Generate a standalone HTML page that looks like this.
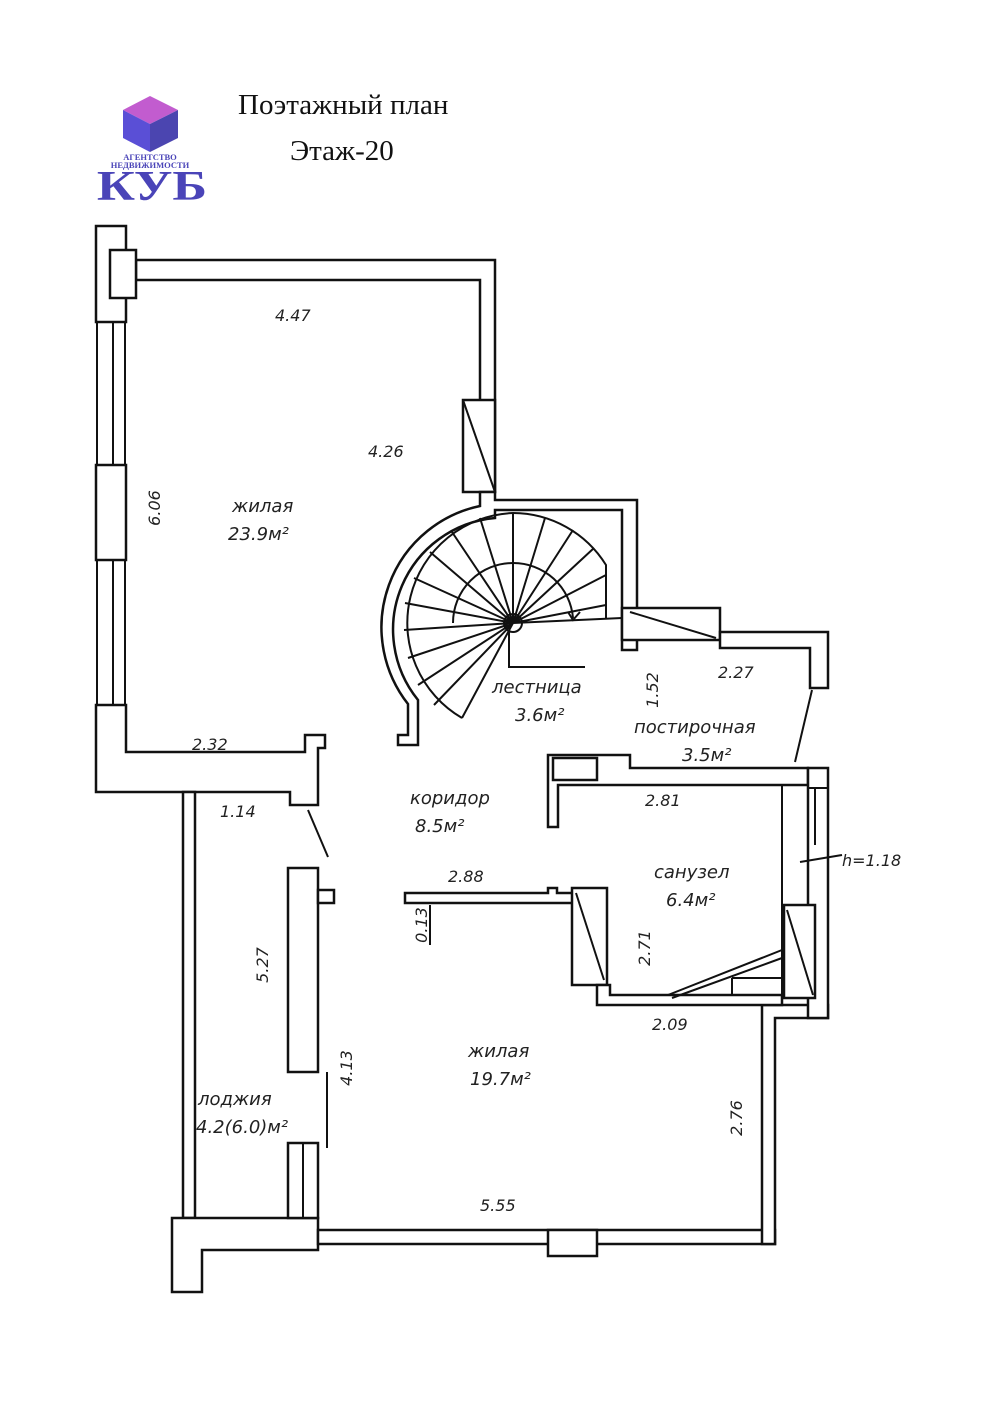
<!DOCTYPE html>
<html><head><meta charset="utf-8"><style>
html,body{margin:0;padding:0;background:#fff}
svg{display:block}
.w{fill:#fff;stroke:#111;stroke-width:2.5}
.l{fill:none;stroke:#111;stroke-width:2}
.t{font-family:"DejaVu Sans","Liberation Sans",sans-serif;font-style:italic;fill:#222;font-size:18px}
.d{font-family:"DejaVu Sans","Liberation Sans",sans-serif;font-style:italic;fill:#222;font-size:16px}
</style></head><body>
<svg width="988" height="1409" viewBox="0 0 988 1409" xmlns="http://www.w3.org/2000/svg">
<!-- logo -->
<polygon points="150,96 178,110 150,124 123,110" fill="#c25ccf"/>
<polygon points="123,110 150,124 150,152 123,138" fill="#5a4fd6"/>
<polygon points="150,124 178,110 178,138 150,152" fill="#4b45b0"/>
<text x="150" y="160" font-family="Liberation Serif,serif" font-weight="bold" font-size="8.5" fill="#4a44b8" text-anchor="middle">АГЕНТСТВО</text>
<text x="150" y="168" font-family="Liberation Serif,serif" font-weight="bold" font-size="8.5" fill="#4a44b8" text-anchor="middle">НЕДВИЖИМОСТИ</text>
<text transform="translate(152,200) scale(1.25,1)" font-family="Liberation Serif,serif" font-weight="bold" font-size="42" fill="#4a44b8" text-anchor="middle">КУБ</text>
<text x="238" y="114" font-family="Liberation Serif,serif" font-size="29" fill="#111">Поэтажный план</text>
<text x="290" y="160" font-family="Liberation Serif,serif" font-size="29" fill="#111">Этаж-20</text>

<!-- top room walls -->
<path class="w" d="M136,260 H495 V492 H480 V280 H136 Z"/>
<rect class="w" x="96" y="226" width="30" height="96"/>
<rect class="w" x="110" y="250" width="26" height="48"/>
<rect class="w" x="463" y="400" width="32" height="92"/>
<line class="l" x1="463" y1="400" x2="495" y2="492"/>
<!-- left wall windows -->
<line class="l" x1="97" y1="322" x2="97" y2="705"/><line class="l" x1="125" y1="322" x2="125" y2="705"/>
<line class="l" x1="113" y1="322" x2="113" y2="465"/><line class="l" x1="113" y1="560" x2="113" y2="705"/>
<rect class="w" x="96" y="465" width="30" height="95"/>
<path class="w" d="M96,705 H126 V752 H305 V735 H325 V748 H318 V805 H290 V792 H96 Z"/>
<!-- loggia -->
<rect class="w" x="183" y="792" width="12" height="426"/>
<path class="w" d="M172,1218 H318 V1250 H202 V1292 H172 Z"/>
<rect class="w" x="288" y="868" width="30" height="204"/>
<rect class="w" x="318" y="890" width="16" height="13"/>
<rect class="w" x="288" y="1143" width="30" height="75"/>
<line class="l" x1="303" y1="1143" x2="303" y2="1218"/>
<line class="l" x1="327" y1="1072" x2="327" y2="1148"/>
<line class="l" x1="308" y1="810" x2="328" y2="857"/>
<!-- bottom wall -->
<rect class="w" x="318" y="1230" width="457" height="14"/>
<rect class="w" x="548" y="1230" width="49" height="26"/>
<path class="w" d="M762,1005 H828 V1018 H775 V1244 H762 Z"/>
<!-- stairs -->
<path class="w" d="M480,492 H495 V500 H637 V650 H622 V510 H495 V518 A112,112 0 0 0 418,700 V745 H398 V735 H408 V704 A124,124 0 0 1 480,506 Z"/>
<g class="l" stroke-width="1.6">
<path d="M513,513 A110,110 0 0 0 462,718"/>
<path d="M513,563 A60,60 0 0 0 453,623"/>
<path d="M513,513 A110,110 0 0 1 606,565 V618"/>
<path d="M513,563 A60,60 0 0 1 573,618"/>
<circle cx="513" cy="623" r="9"/>
<path d="M513,623 L513,513 M513,623 L480,518 M513,623 L452,532 M513,623 L430,552 M513,623 L414,578 M513,623 L405,603 M513,623 L404,630 M513,623 L408,658 M513,623 L418,685 M513,623 L434,705 M513,623 L462,718 M513,623 L545,518 M513,623 L573,530 M513,623 L594,548 M513,623 L606,575 M513,623 L606,605 M513,623 L622,618"/>
<path d="M509,630 V667 H585"/>
<path d="M568,612 L573,620 L580,612"/>
</g>
<rect class="w" x="622" y="608" width="98" height="32"/>
<line class="l" x1="630" y1="612" x2="716" y2="638"/>
<path class="w" d="M720,632 H828 V688 H810 V648 H720 Z"/>
<line class="l" x1="812" y1="690" x2="795" y2="762"/>
<!-- sanuzel -->
<path class="w" d="M548,755 H630 V768 H808 V785 H558 V827 H548 Z"/>
<rect class="w" x="553" y="758" width="44" height="22"/>
<rect class="w" x="808" y="768" width="20" height="250"/>
<line class="l" x1="808" y1="788" x2="828" y2="788"/>
<line class="l" x1="815" y1="788" x2="815" y2="845"/>
<line class="l" x1="782" y1="785" x2="782" y2="1005"/>
<rect class="w" x="784" y="905" width="31" height="93"/>
<line class="l" x1="787" y1="910" x2="813" y2="995"/>
<line class="l" x1="800" y1="862" x2="842" y2="855"/>
<path class="w" d="M405,893 H548 V888 H557 V893 H575 V903 H405 Z"/>
<rect class="w" x="572" y="888" width="35" height="97"/>
<line class="l" x1="576" y1="893" x2="604" y2="980"/>
<path class="w" d="M597,985 H610 V995 H782 V1005 H597 Z"/>
<path class="l" d="M668,995 L782,950 M672,998 L782,958 M732,978 V995 M732,978 H782"/>
<line class="l" x1="430" y1="905" x2="430" y2="945"/>

<!-- labels -->
<text class="d" x="275" y="321">4.47</text>
<text class="d" x="368" y="457">4.26</text>
<text class="d" transform="translate(160,508) rotate(-90)" text-anchor="middle">6.06</text>
<text class="t" x="232" y="512" fill="#777">жилая</text>
<text class="t" x="228" y="540">23.9м²</text>
<text class="d" x="192" y="750">2.32</text>
<text class="d" x="220" y="817">1.14</text>
<text class="t" x="492" y="693">лестница</text>
<text class="t" x="515" y="721">3.6м²</text>
<text class="d" transform="translate(658,690) rotate(-90)" text-anchor="middle">1.52</text>
<text class="d" x="718" y="678">2.27</text>
<text class="t" x="634" y="733">постирочная</text>
<text class="t" x="682" y="761">3.5м²</text>
<text class="t" x="410" y="804">коридор</text>
<text class="t" x="415" y="832">8.5м²</text>
<text class="d" x="645" y="806">2.81</text>
<text class="t" x="654" y="878">санузел</text>
<text class="t" x="666" y="906">6.4м²</text>
<text class="d" x="842" y="866">h=1.18</text>
<text class="d" x="448" y="882">2.88</text>
<text class="d" transform="translate(427,925) rotate(-90)" text-anchor="middle">0.13</text>
<text class="d" transform="translate(650,948) rotate(-90)" text-anchor="middle">2.71</text>
<text class="d" transform="translate(268,965) rotate(-90)" text-anchor="middle">5.27</text>
<text class="d" x="652" y="1030">2.09</text>
<text class="d" transform="translate(352,1068) rotate(-90)" text-anchor="middle">4.13</text>
<text class="t" x="468" y="1057">жилая</text>
<text class="t" x="470" y="1085">19.7м²</text>
<text class="t" x="198" y="1105">лоджия</text>
<text class="t" x="196" y="1133">4.2(6.0)м²</text>
<text class="d" transform="translate(742,1118) rotate(-90)" text-anchor="middle">2.76</text>
<text class="d" x="480" y="1211">5.55</text>
</svg>
</body></html>
